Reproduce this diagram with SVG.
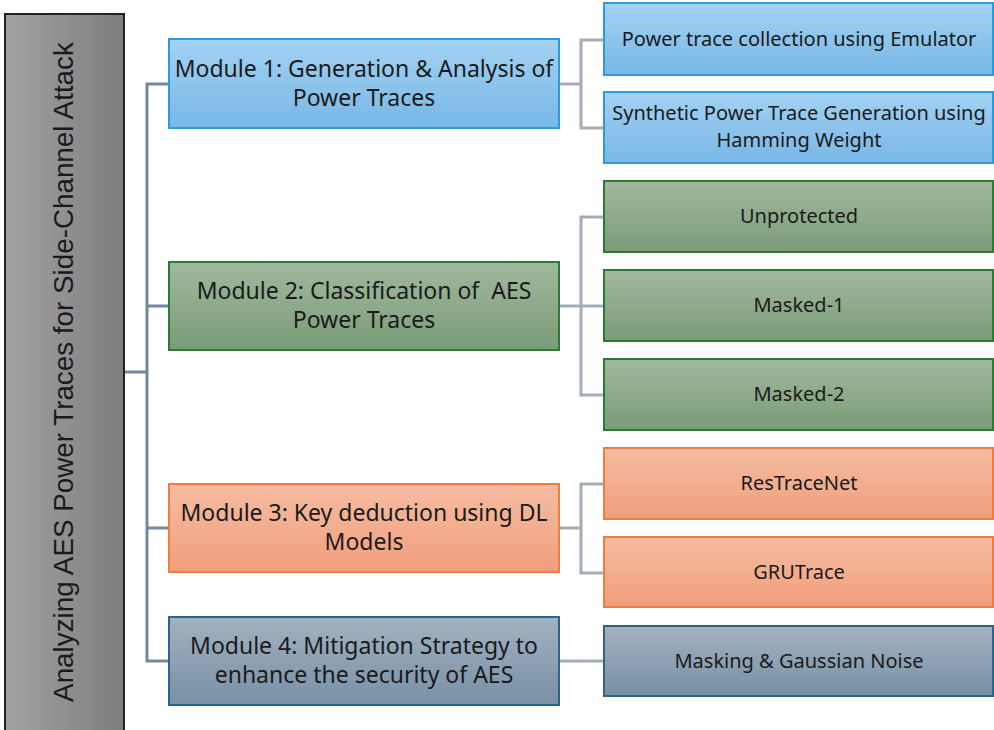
<svg xmlns="http://www.w3.org/2000/svg" width="994" height="730" viewBox="0 0 994 730">
  <defs>
    <linearGradient id="gBar" x1="0" y1="0" x2="1" y2="0">
      <stop offset="0" stop-color="#a2a2a2"/>
      <stop offset="1" stop-color="#7e7e7e"/>
    </linearGradient>
    <linearGradient id="gBlue" x1="0" y1="0" x2="0" y2="1">
      <stop offset="0" stop-color="#a3d2f3"/>
      <stop offset="1" stop-color="#78b7e6"/>
    </linearGradient>
    <linearGradient id="gGreen" x1="0" y1="0" x2="0" y2="1">
      <stop offset="0" stop-color="#a1b89e"/>
      <stop offset="1" stop-color="#7a9c77"/>
    </linearGradient>
    <linearGradient id="gOrange" x1="0" y1="0" x2="0" y2="1">
      <stop offset="0" stop-color="#f5bca3"/>
      <stop offset="1" stop-color="#f19f7b"/>
    </linearGradient>
    <linearGradient id="gSlate" x1="0" y1="0" x2="0" y2="1">
      <stop offset="0" stop-color="#a3b2c0"/>
      <stop offset="1" stop-color="#7890a6"/>
    </linearGradient>
  </defs>
  <style>
    text { font-family: "Noto Sans", "Open Sans", sans-serif; fill: #1a1a1a; text-anchor: middle; }
    .mod { font-size: 23px; }
    .leaf { font-size: 20px; }
    .blue { fill: url(#gBlue); stroke: #2f9bd6; stroke-width: 2; }
    .green { fill: url(#gGreen); stroke: #2e7a34; stroke-width: 2; }
    .orange { fill: url(#gOrange); stroke: #ee7d3e; stroke-width: 2; }
    .slate { fill: url(#gSlate); stroke: #2f6388; stroke-width: 2; }
    .trunk { fill: none; stroke: #7088a0; stroke-width: 3; }
    .branch { fill: none; stroke: #a4adb7; stroke-width: 3; }
  </style>

  <!-- connectors -->
  <g id="connectors">
    <path class="trunk" d="M124 372 H147 M169 84 H147 V661 H169 M147 306 H169 M147 528 H169"/>
    <path class="branch" d="M559 84 H581 M604 40 H581 V128 H604"/>
    <path class="branch" d="M559 306 H604 M604 217 H581 V395 H604"/>
    <path class="branch" d="M559 528 H581 M604 484 H581 V573 H604"/>
    <path class="branch" d="M559 661 H604"/>
  </g>

  <!-- root bar -->
  <g id="root">
    <rect x="5" y="14" width="119" height="720" fill="url(#gBar)" stroke="#222" stroke-width="2"/>
    <text x="0" y="0" transform="translate(73 372) rotate(-90)" font-size="27.8" style="font-family: 'Liberation Sans', Arial, sans-serif">Analyzing AES Power Traces for Side-Channel Attack</text>
  </g>

  <!-- modules -->
  <g id="module1">
    <rect class="blue" x="169" y="39" width="390" height="89"/>
    <text class="mod" x="364" y="77">Module 1: Generation &amp; Analysis of</text>
    <text class="mod" x="364" y="106">Power Traces</text>
  </g>
  <g id="module2">
    <rect class="green" x="169" y="262" width="390" height="88"/>
    <text class="mod" x="364" y="299" xml:space="preserve">Module 2: Classification of  AES</text>
    <text class="mod" x="364" y="328">Power Traces</text>
  </g>
  <g id="module3">
    <rect class="orange" x="169" y="484" width="390" height="88"/>
    <text class="mod" x="364" y="521">Module 3: Key deduction using DL</text>
    <text class="mod" x="364" y="550">Models</text>
  </g>
  <g id="module4">
    <rect class="slate" x="169" y="617" width="390" height="88"/>
    <text class="mod" x="364" y="654">Module 4: Mitigation Strategy to</text>
    <text class="mod" x="364" y="683">enhance the security of AES</text>
  </g>

  <!-- leaves -->
  <g id="leaf1a">
    <rect class="blue" x="604" y="3" width="389" height="72"/>
    <text class="leaf" x="799" y="46">Power trace collection using Emulator</text>
  </g>
  <g id="leaf1b">
    <rect class="blue" x="604" y="92" width="389" height="71"/>
    <text class="leaf" x="799" y="120">Synthetic Power Trace Generation using</text>
    <text class="leaf" x="799" y="147">Hamming Weight</text>
  </g>
  <g id="leaf2a">
    <rect class="green" x="604" y="181" width="389" height="71"/>
    <text class="leaf" x="799" y="223">Unprotected</text>
  </g>
  <g id="leaf2b">
    <rect class="green" x="604" y="270" width="389" height="71"/>
    <text class="leaf" x="799" y="312">Masked-1</text>
  </g>
  <g id="leaf2c">
    <rect class="green" x="604" y="359" width="389" height="71"/>
    <text class="leaf" x="799" y="401">Masked-2</text>
  </g>
  <g id="leaf3a">
    <rect class="orange" x="604" y="448" width="389" height="71"/>
    <text class="leaf" x="799" y="490">ResTraceNet</text>
  </g>
  <g id="leaf3b">
    <rect class="orange" x="604" y="537" width="389" height="70"/>
    <text class="leaf" x="799" y="579">GRUTrace</text>
  </g>
  <g id="leaf4">
    <rect class="slate" x="604" y="626" width="389" height="70"/>
    <text class="leaf" x="799" y="668">Masking &amp; Gaussian Noise</text>
  </g>
</svg>
